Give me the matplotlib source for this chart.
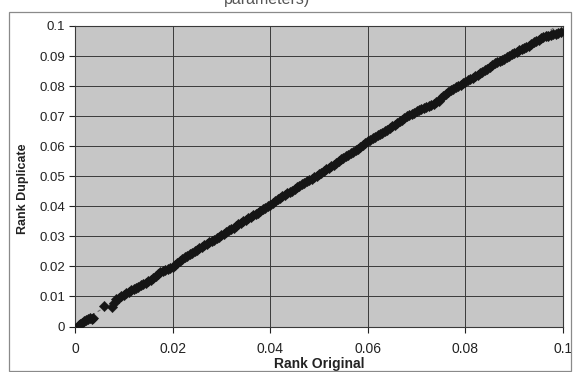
import matplotlib
matplotlib.use("Agg")
import matplotlib.pyplot as plt
from matplotlib.patches import Rectangle
import numpy as np

plt.rcParams['font.family'] = ['Liberation Sans', 'DejaVu Sans']

title_text = "parameters)"
x_label = "Rank Original"
y_label = "Rank Duplicate"
x_ticks = [0, 0.02, 0.04, 0.06, 0.08, 0.1]
x_tick_labels = ["0", "0.02", "0.04", "0.06", "0.08", "0.1"]
y_ticks = [0, 0.01, 0.02, 0.03, 0.04, 0.05, 0.06, 0.07, 0.08, 0.09, 0.1]
y_tick_labels = ["0", "0.01", "0.02", "0.03", "0.04", "0.05", "0.06", "0.07", "0.08", "0.09", "0.1"]

rank_original = [
    0.0008, 0.0011, 0.0015, 0.0019, 0.0023, 0.0026, 0.0030, 0.0034, 0.0036, 0.0059,
    0.0075, 0.0080, 0.0085, 0.0090, 0.0095, 0.0100, 0.0105, 0.0110, 0.0115, 0.0120,
    0.0125, 0.0130, 0.0135, 0.0140, 0.0145, 0.0150, 0.0155, 0.0160, 0.0165, 0.0170,
    0.0175, 0.0180, 0.0185, 0.0190, 0.0195, 0.0200, 0.0205, 0.0210, 0.0215, 0.0220,
    0.0225, 0.0230, 0.0235, 0.0240, 0.0245, 0.0250, 0.0255, 0.0260, 0.0265, 0.0270,
    0.0275, 0.0280, 0.0285, 0.0290, 0.0295, 0.0300, 0.0305, 0.0310, 0.0315, 0.0320,
    0.0325, 0.0330, 0.0335, 0.0340, 0.0345, 0.0350, 0.0355, 0.0360, 0.0365, 0.0370,
    0.0375, 0.0380, 0.0385, 0.0390, 0.0395, 0.0400, 0.0405, 0.0410, 0.0415, 0.0420,
    0.0425, 0.0430, 0.0435, 0.0440, 0.0445, 0.0450, 0.0455, 0.0460, 0.0465, 0.0470,
    0.0475, 0.0480, 0.0485, 0.0490, 0.0495, 0.0500, 0.0505, 0.0510, 0.0515, 0.0520,
    0.0525, 0.0530, 0.0535, 0.0540, 0.0545, 0.0550, 0.0555, 0.0560, 0.0565, 0.0570,
    0.0575, 0.0580, 0.0585, 0.0590, 0.0595, 0.0600, 0.0605, 0.0610, 0.0615, 0.0620,
    0.0625, 0.0630, 0.0635, 0.0640, 0.0645, 0.0650, 0.0655, 0.0660, 0.0665, 0.0670,
    0.0675, 0.0680, 0.0685, 0.0690, 0.0695, 0.0700, 0.0705, 0.0710, 0.0715, 0.0720,
    0.0725, 0.0730, 0.0735, 0.0740, 0.0745, 0.0750, 0.0755, 0.0760, 0.0765, 0.0770,
    0.0775, 0.0780, 0.0785, 0.0790, 0.0795, 0.0800, 0.0805, 0.0810, 0.0815, 0.0820,
    0.0825, 0.0830, 0.0835, 0.0840, 0.0845, 0.0850, 0.0855, 0.0860, 0.0865, 0.0870,
    0.0875, 0.0880, 0.0885, 0.0890, 0.0895, 0.0900, 0.0905, 0.0910, 0.0915, 0.0920,
    0.0925, 0.0930, 0.0935, 0.0940, 0.0945, 0.0950, 0.0955, 0.0960, 0.0965, 0.0970,
    0.0975, 0.0980, 0.0985, 0.0990, 0.0995,
]

rank_duplicate = [
    0.0004, 0.0009, 0.0012, 0.0017, 0.0020, 0.0024, 0.0027, 0.0025, 0.0029, 0.0069,
    0.0066, 0.0079, 0.0091, 0.0094, 0.0103, 0.0104, 0.0112, 0.0114, 0.0121, 0.0125,
    0.0129, 0.0133, 0.0137, 0.0142, 0.0146, 0.0152, 0.0156, 0.0163, 0.0168, 0.0175,
    0.0181, 0.0186, 0.0189, 0.0192, 0.0194, 0.0198, 0.0203, 0.0211, 0.0219, 0.0224,
    0.0230, 0.0236, 0.0240, 0.0246, 0.0251, 0.0256, 0.0262, 0.0265, 0.0271, 0.0276,
    0.0280, 0.0285, 0.0289, 0.0295, 0.0299, 0.0304, 0.0309, 0.0315, 0.0320, 0.0325,
    0.0329, 0.0334, 0.0340, 0.0344, 0.0350, 0.0356, 0.0361, 0.0366, 0.0370, 0.0374,
    0.0379, 0.0384, 0.0390, 0.0396, 0.0401, 0.0405, 0.0411, 0.0418, 0.0424, 0.0429,
    0.0433, 0.0438, 0.0443, 0.0448, 0.0452, 0.0457, 0.0463, 0.0467, 0.0473, 0.0478,
    0.0483, 0.0488, 0.0492, 0.0496, 0.0501, 0.0506, 0.0512, 0.0518, 0.0524, 0.0528,
    0.0533, 0.0539, 0.0545, 0.0550, 0.0556, 0.0561, 0.0567, 0.0572, 0.0577, 0.0582,
    0.0587, 0.0592, 0.0597, 0.0604, 0.0612, 0.0618, 0.0622, 0.0627, 0.0631, 0.0636,
    0.0640, 0.0645, 0.0651, 0.0655, 0.0660, 0.0666, 0.0672, 0.0677, 0.0683, 0.0688,
    0.0693, 0.0699, 0.0703, 0.0707, 0.0711, 0.0716, 0.0720, 0.0723, 0.0727, 0.0731,
    0.0734, 0.0738, 0.0742, 0.0746, 0.0752, 0.0760, 0.0768, 0.0774, 0.0781, 0.0787,
    0.0792, 0.0797, 0.0801, 0.0805, 0.0810, 0.0815, 0.0819, 0.0823, 0.0828, 0.0833,
    0.0838, 0.0842, 0.0847, 0.0852, 0.0858, 0.0865, 0.0871, 0.0876, 0.0881, 0.0884,
    0.0887, 0.0891, 0.0896, 0.0901, 0.0906, 0.0910, 0.0914, 0.0919, 0.0924, 0.0927,
    0.0930, 0.0934, 0.0940, 0.0946, 0.0951, 0.0955, 0.0959, 0.0962, 0.0966, 0.0968,
    0.0970, 0.0973, 0.0975, 0.0978, 0.0981,
]

W, H = 574, 372
fig = plt.figure(figsize=(W / 100, H / 100), dpi=100)
fig.patch.set_facecolor("white")

# outer chart-area border
fig.patches.append(Rectangle((9 / W, 1 / H), (571 - 9) / W, (360 - 1) / H,
                             transform=fig.transFigure, fill=False,
                             edgecolor="#8a8a8a", linewidth=0.9))

# clipped title remnant at the very top
fig.text(267 / W, 1 - 3.8 / H, title_text, ha="center", va="baseline",
         fontsize=11.5, color="#555555")

ax = fig.add_axes([75 / W, 1 - 326.5 / H, (563 - 75) / W, (326.5 - 26) / H])
ax.set_facecolor("#c6c6c6")
ax.set_xlim(0, 0.1)
ax.set_ylim(0, 0.1)

ax.set_xticks(x_ticks)
ax.set_xticklabels(x_tick_labels)
ax.set_yticks(y_ticks)
ax.set_yticklabels(y_tick_labels)
ax.tick_params(axis="both", direction="out", length=4, width=0.8, colors="#222222",
               labelcolor="#222222")
ax.tick_params(axis="x", pad=7, labelsize=10)
ax.tick_params(axis="y", pad=3, labelsize=9.5)
ax.grid(True, color="#3a3a3a", linewidth=0.7)
ax.set_axisbelow(True)
for s in ax.spines.values():
    s.set_color("#3a3a3a")
    s.set_linewidth(0.8)

xs = np.array(rank_original)
ys = np.array(rank_duplicate)

# linear trendline (dashed)
coef = np.polyfit(xs, ys, 1)
tx = np.array(ax.get_xlim())
ax.plot(tx, np.polyval(coef, tx), linestyle=(0, (3, 3)), color="#707070",
        linewidth=0.8, zorder=2)

ax.scatter(xs, ys, marker="D", s=28, color="#151515", edgecolors="#151515",
           linewidths=0.3, zorder=3)

ax.set_xlabel(x_label, fontsize=10, fontweight="bold", labelpad=1, color="#222222")
ax.set_ylabel(y_label, fontsize=9, fontweight="bold", labelpad=5, color="#222222")
ax.yaxis.set_label_coords(-0.094, 0.46)

fig.savefig("out.png", dpi=100, facecolor="white")
